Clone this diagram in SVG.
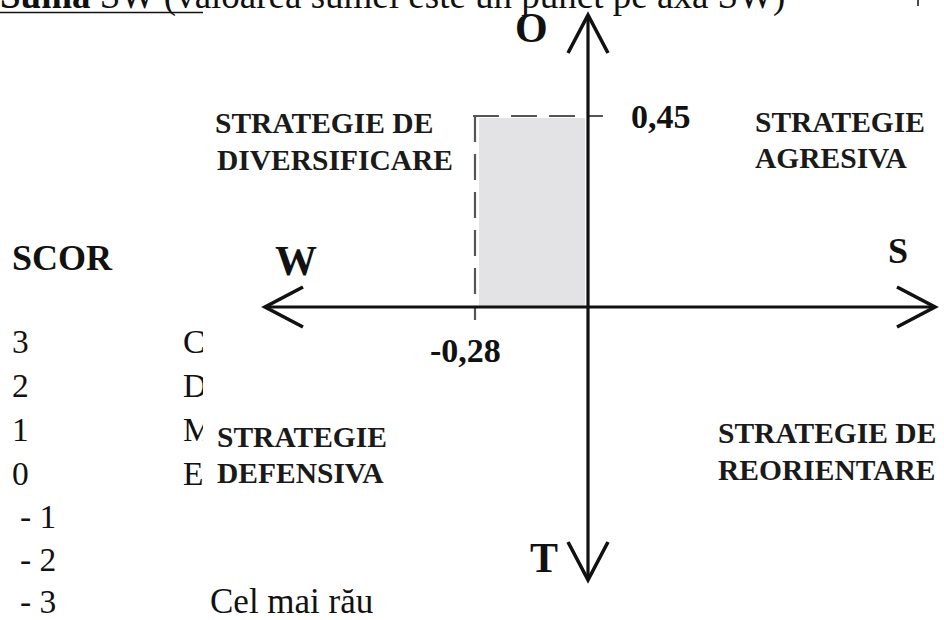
<svg xmlns="http://www.w3.org/2000/svg" width="944" height="620" viewBox="0 0 944 620">
<style>
text{font-family:"Liberation Serif","Times New Roman",serif;fill:#111}
.b{font-weight:bold}
.lab{font-size:29.5px;font-weight:bold;fill:#1a1a1a}
.axl{font-size:42px;font-weight:bold}
.num{font-size:33.5px}
.axis{stroke:#111;stroke-width:3.2;fill:none}
.dash{stroke:#555;stroke-width:2.2;fill:none;stroke-dasharray:26 12}
</style>
<defs>
<marker id="arr" viewBox="-44 -24 48 48" refX="0" refY="0" markerWidth="48" markerHeight="48" markerUnits="userSpaceOnUse" orient="auto-start-reverse">
<path d="M-38,-20 L0,0 L-38,20" fill="none" stroke="#111" stroke-width="3.6" stroke-linejoin="miter"/>
</marker>
<clipPath id="clipL"><rect x="0" y="300" width="203" height="220"/></clipPath>
</defs>
<rect width="944" height="620" fill="#fff"/>

<g id="title">
<text x="0" y="8" font-size="37"><tspan class="b">Suma</tspan> SW (valoarea sumei este un punct pe axa SW)</text>
<line x1="0" y1="12.5" x2="203" y2="12.5" stroke="#111" stroke-width="1.5"/>
<line x1="918" y1="0" x2="918" y2="6" stroke="#111" stroke-width="1.5"/>
</g>

<g id="area">
<rect x="479" y="118" width="106" height="188" fill="#e3e3e6"/>
<path class="dash" d="M473,116 H603"/>
<path class="dash" d="M475,116 V320"/>
</g>

<g id="connectors">
<line class="axis" x1="265" y1="307" x2="935" y2="307" marker-start="url(#arr)" marker-end="url(#arr)"/>
<line class="axis" x1="588" y1="15" x2="588" y2="580" marker-start="url(#arr)" marker-end="url(#arr)"/>
</g>

<g id="axis-labels">
<text class="axl" x="515" y="42">O</text>
<text class="axl" x="530" y="572">T</text>
<text class="axl" x="275" y="275">W</text>
<text x="888" y="263" font-size="36" class="b">S</text>
<text x="631" y="128" font-size="34" class="b">0,45</text>
<text x="430" y="362" font-size="34" class="b">-0,28</text>
</g>

<g id="q-diversificare">
<text class="lab" x="215" y="133">STRATEGIE DE</text>
<text class="lab" x="217" y="170">DIVERSIFICARE</text>
</g>
<g id="q-agresiva">
<text class="lab" x="755" y="132">STRATEGIE</text>
<text class="lab" x="755" y="168">AGRESIVA</text>
</g>
<g id="q-defensiva">
<text class="lab" x="217" y="447">STRATEGIE</text>
<text class="lab" x="217" y="483">DEFENSIVA</text>
</g>
<g id="q-reorientare">
<text class="lab" x="718" y="443">STRATEGIE DE</text>
<text class="lab" x="718" y="480">REORIENTARE</text>
</g>

<g id="scor">
<text x="12" y="270" font-size="36" class="b">SCOR</text>
<text class="num" x="12" y="353">3</text>
<text class="num" x="12" y="397">2</text>
<text class="num" x="12" y="441">1</text>
<text class="num" x="12" y="485">0</text>
<text class="num" x="20" y="528">- 1</text>
<text class="num" x="20" y="571">- 2</text>
<text class="num" x="20" y="613">- 3</text>
<g clip-path="url(#clipL)">
<text class="num" x="183" y="353">C</text>
<text class="num" x="183" y="397">D</text>
<text class="num" x="183" y="441">M</text>
<text class="num" x="183" y="485">E</text>
</g>
<text x="210" y="613" font-size="35">Cel mai rău</text>
</g>
</svg>
